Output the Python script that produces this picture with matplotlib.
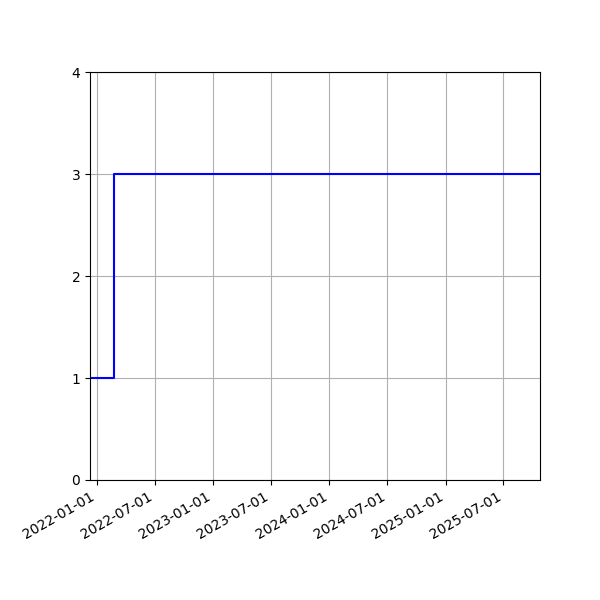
import matplotlib
matplotlib.use("Agg")
import matplotlib.pyplot as plt
import matplotlib.dates as mdates
import numpy as np

dates = np.array(["2021-12-10", "2022-02-22", "2025-10-24"], dtype="datetime64[D]")
values = [1, 3, 3]
tick_dates = np.array(["2022-01-01", "2022-07-01", "2023-01-01", "2023-07-01",
                       "2024-01-01", "2024-07-01", "2025-01-01", "2025-07-01"], dtype="datetime64[D]")

fig, ax = plt.subplots(figsize=(6, 6), dpi=100)
ax.step(dates, values, where="post", color="blue", linewidth=1.5)
ax.set_xlim(dates[0], dates[-1])
ax.set_ylim(0, 4)
ax.set_yticks([0, 1, 2, 3, 4])
ax.set_xticks(tick_dates)
ax.xaxis.set_major_formatter(mdates.DateFormatter("%Y-%m-%d"))
ax.grid(True)
fig.autofmt_xdate()
fig.subplots_adjust(left=0.15, right=0.9, top=0.88, bottom=0.2)
fig.savefig("out.png")
